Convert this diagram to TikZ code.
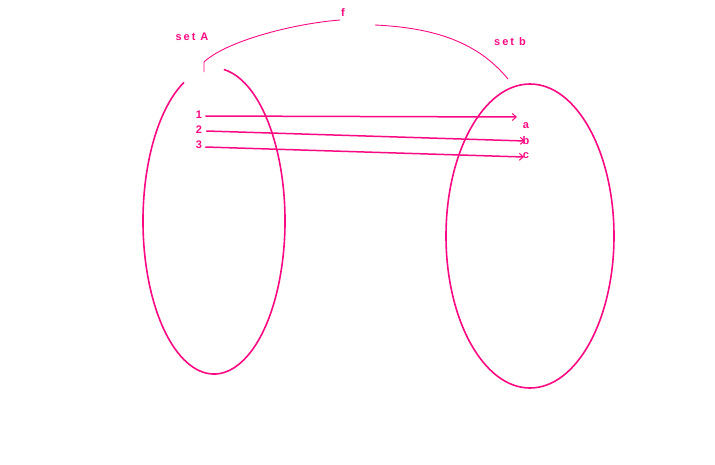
\documentclass[tikz,border=0pt]{standalone}
\usepackage{fontspec}
\setmainfont{Liberation Sans}
\usetikzlibrary{arrows.meta}
\definecolor{pk}{RGB}{250,10,130}
\tikzset{
  lbl/.style={text=pk,font=\fontsize{11}{11}\selectfont\bfseries\addfontfeature{LetterSpace=18},inner sep=0pt},
  num/.style={text=pk,font=\fontsize{11}{11}\selectfont\bfseries,inner sep=0pt},
  setline/.style={draw=pk,line width=1.6pt},
  fline/.style={draw=pk,line width=0.9pt},
  maparrow/.style={draw=pk,line width=1.5pt,-{Straight Barb[length=4pt,width=7pt,line width=1pt]}}
}
\begin{document}
\begin{tikzpicture}[x=1pt,y=-1pt]
\useasboundingbox (0,0) rectangle (715,464);
% set A (open at top)
\coordinate (cA) at (214,221);
\draw[setline] (cA) ++(115:71 and -153) arc[start angle=115,end angle=442,x radius=71,y radius=-153];
% set b
\coordinate (cB) at (530,236);
\draw[setline] (cB) ellipse[x radius=84,y radius=152];
% labels
\node[lbl] (setA) at (192,37) {set A};
\node[lbl] (setB) at (510,42) {set b};
\node[lbl] (f) at (343,13) {f};
% arc f
\coordinate (fA0) at (204,72);
\coordinate (fA1) at (340,20);
\coordinate (fB0) at (375,25);
\coordinate (fB1) at (508,79);
\draw[fline] (fA0) -- (204,62) .. controls (225,42) and (290,24) .. (fA1);
\draw[fline] (fB0) .. controls (440,28) and (480,45) .. (fB1);
% elements
\node[num] (n1) at (199,115) {1};
\node[num] (n2) at (199,130) {2};
\node[num] (n3) at (199,145) {3};
\node[num] (ea) at (526,126) {a};
\node[num] (eb) at (526,141) {b};
\node[num] (ec) at (526,156) {c};
\coordinate (t1) at (517,117);
\coordinate (t2) at (525,141);
\coordinate (t3) at (524,157);
\draw[maparrow] (n1.east) ++(3,1) -- (t1);
\draw[maparrow] (n2.east) ++(4,1) -- (t2);
\draw[maparrow] (n3.east) ++(3,2) -- (t3);
\end{tikzpicture}
\end{document}
